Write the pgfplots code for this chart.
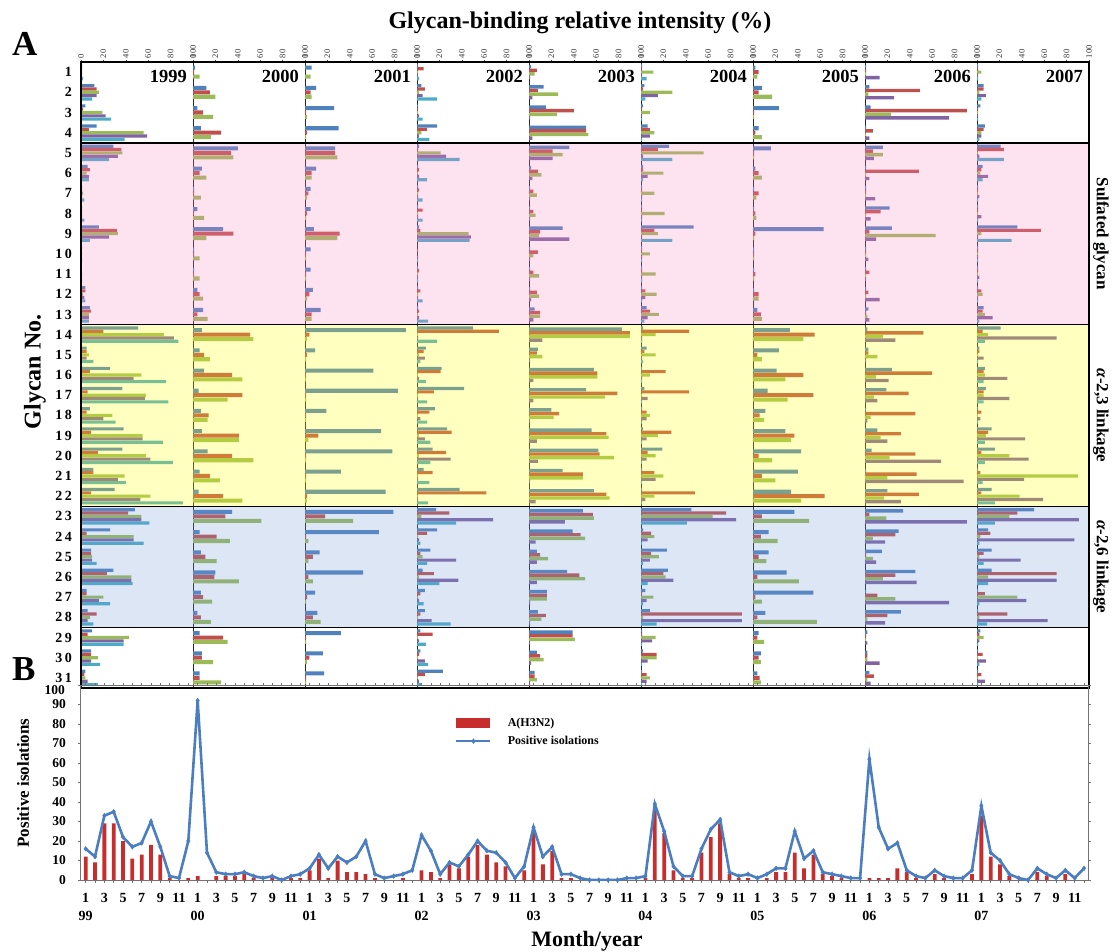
\documentclass[border=0pt]{standalone}
\usepackage{fontspec}
\setmainfont{Liberation Serif}
\usepackage{pgfplots}
\usepackage{pgfplotstable}
\pgfplotsset{compat=1.18}
\definecolor{cb}{RGB}{79,129,189}
\definecolor{cr}{RGB}{192,80,77}
\definecolor{cg}{RGB}{155,187,89}
\definecolor{cp}{RGB}{128,100,162}
\definecolor{cc}{RGB}{75,172,198}
\definecolor{bandpink}{RGB}{247,139,195}
\definecolor{bandyel}{RGB}{255,255,0}
\definecolor{bandblue}{RGB}{115,155,215}
\definecolor{hred}{RGB}{200,45,45}
\definecolor{lblue}{RGB}{74,126,193}
\newcommand{\yl}[1]{\textbf{#1}}

% ---------------- Panel A data (glycan-binding relative intensity, %) -------------
\pgfplotstableread{
g a b c d e
1 1 1 1 1 2
2 12 14 16 14 10
3 4 2 19 22 27
4 14 7 56 59 39
5 29 36 37 33 25
6 6 8 5 7 7
7 1 1 2 1 3
8 1 1 1 1 3
9 16 32 33 25 8
10 1 0 1 0 1
11 0 0 1 0 1
12 4 4 2 3 4
13 8 9 7 7 7
14 51 20 74 83 87
15 5 5 7 5 11
16 26 8 54 47 76
17 37 6 58 57 78
18 8 5 28 20 31
19 38 9 55 55 73
20 37 15 58 62 82
21 11 11 39 33 40
22 30 9 62 53 91
23 48 42 54 54 61
24 26 5 47 47 56
25 9 9 10 10 14
26 29 23 45 45 46
27 5 5 20 16 26
28 6 14 8 6 11
29 10 6 43 38 38
30 9 9 15 9 17
31 4 3 4 6 15
}\tA
\pgfplotstableread{
g a b c
1 2 1 6
2 12 15 20
3 4 9 18
4 7 25 16
5 40 34 36
6 8 6 12
7 1 1 7
8 4 1 10
9 27 36 12
10 1 1 6
11 1 1 6
12 4 6 9
13 9 4 13
14 8 51 54
15 6 10 15
16 10 35 44
17 5 44 31
18 7 14 13
19 8 41 41
20 13 35 54
21 6 15 24
22 5 27 44
23 35 29 61
24 6 21 33
25 7 11 21
26 20 19 41
27 7 9 17
28 4 7 16
29 6 27 31
30 8 8 18
31 6 6 25
}\tBb
\pgfplotstableread{
g a b c
1 6 0 5
2 10 5 6
3 26 1 2
4 30 2 1
5 27 27 29
6 10 6 6
7 5 3 2
8 5 2 1
9 8 31 29
10 5 1 1
11 5 1 1
12 7 4 2
13 14 6 6
14 90 4 2
15 9 2 1
16 61 1 1
17 83 1 1
18 19 1 1
19 68 12 3
20 78 1 1
21 32 1 1
22 72 2 2
23 79 18 43
24 66 1 3
25 13 7 3
26 52 3 7
27 9 2 1
28 11 7 14
29 32 1 1
30 16 4 2
31 17 1 1
}\tC
\pgfplotstableread{
g a b c d e
1 1 6 1 1 2
2 4 7 2 5 18
3 1 1 1 2 5
4 18 9 4 2 11
5 2 1 21 26 38
6 1 2 1 2 9
7 1 2 1 1 5
8 1 5 1 1 5
9 2 3 46 48 47
10 0 1 0 1 1
11 1 2 1 1 1
12 1 3 1 1 5
13 1 2 1 2 10
14 50 73 1 1 18
15 8 6 2 7 3
16 22 21 1 2 8
17 42 15 1 1 9
18 16 11 1 3 9
19 27 31 2 7 12
20 14 26 2 30 12
21 6 14 1 1 11
22 38 62 1 1 10
23 17 29 4 68 35
24 18 9 1 2 3
25 12 3 5 35 9
26 5 15 2 37 20
27 7 3 1 2 6
28 7 3 1 13 30
29 3 14 1 2 8
30 3 2 1 7 10
31 23 7 1 2 4
}\tD
\pgfplotstableread{
g a b c d
1 2 7 5 1
2 13 8 26 3
3 15 40 25 1
4 51 51 53 3
5 36 21 30 21
6 2 8 11 3
7 1 4 7 1
8 1 4 6 1
9 30 10 9 36
10 1 8 4 1
11 1 4 9 1
12 1 7 9 2
13 5 10 10 4
14 83 90 90 12
15 8 7 12 1
16 58 61 61 4
17 51 79 68 4
18 20 27 22 1
19 56 69 71 7
20 62 63 76 8
21 30 48 48 1
22 58 69 72 6
23 48 57 58 32
24 39 46 50 6
25 7 10 17 7
26 34 45 50 7
27 16 16 16 1
28 8 15 11 1
29 39 39 41 1
30 7 10 13 2
31 5 5 7 1
}\tE
\pgfplotstableread{
g a b c d e
1 1 1 11 1 5
2 3 2 28 15 4
3 2 1 8 1 1
4 6 8 12 8 1
5 25 15 56 2 28
6 2 2 20 6 2
7 1 1 12 1 1
8 1 1 21 1 1
9 47 12 15 1 28
10 1 1 8 1 1
11 1 1 13 1 1
12 1 4 14 4 1
13 5 8 16 6 3
14 2 43 13 1 1
15 5 3 13 1 2
16 1 22 8 1 1
17 3 43 1 6 1
18 1 5 8 5 1
19 2 27 15 5 1
20 19 6 13 5 1
21 1 12 20 13 1
22 1 48 12 4 1
23 45 76 64 85 41
24 2 9 12 6 1
25 23 9 16 8 2
26 24 20 22 29 6
27 4 1 11 5 2
28 8 90 2 90 14
29 1 1 13 10 1
30 2 14 14 6 1
31 1 5 8 5 1
}\tF
\pgfplotstableread{
g a b c
1 2 5 4
2 8 5 17
3 23 1 1
4 5 2 8
5 16 1 1
6 2 5 8
7 1 5 3
8 1 2 3
9 63 2 1
10 1 1 1
11 1 2 1
12 1 5 5
13 4 7 8
14 33 55 45
15 23 4 8
16 21 45 29
17 13 54 31
18 11 6 10
19 29 37 34
20 43 5 17
21 40 8 20
22 34 64 43
23 37 8 50
24 14 7 22
25 14 5 12
26 30 4 41
27 54 2 8
28 11 4 57
29 5 4 10
30 7 5 7
31 4 6 7
}\tG
\pgfplotstableread{
g a b c d
1 1 1 1 13
2 4 49 3 26
3 5 91 23 75
4 1 7 1 4
5 16 7 16 8
6 1 48 1 4
7 1 1 1 9
8 22 14 1 5
9 24 4 63 10
10 1 1 1 3
11 1 4 1 1
12 1 3 1 13
13 3 1 2 4
14 2 52 16 27
15 3 3 11 1
16 24 60 10 21
17 19 39 8 11
18 1 45 5 2
19 11 32 14 20
20 6 45 22 68
21 1 46 20 88
22 20 48 17 32
23 34 4 19 91
24 30 27 7 18
25 15 1 7 10
26 45 27 16 46
27 1 11 27 75
28 32 20 2 18
29 2 1 1 2
30 2 2 2 13
31 4 8 2 5
}\tH
\pgfplotstableread{
g a b c d e
1 1 1 4 1 1
2 6 6 2 8 4
3 3 1 1 1 1
4 7 6 4 4 2
5 21 24 1 2 24
6 5 4 3 10 5
7 1 1 1 2 1
8 1 1 1 4 1
9 36 57 4 1 31
10 1 1 1 1 1
11 1 1 1 2 1
12 1 4 5 1 1
13 6 5 7 14 2
14 21 5 10 71 7
15 2 2 1 6 1
16 7 6 7 27 6
17 8 6 6 29 6
18 1 4 1 3 1
19 13 10 8 43 7
20 16 4 29 46 7
21 1 3 90 42 5
22 13 4 38 59 16
23 51 36 29 91 16
24 10 12 3 87 2
25 13 6 2 39 6
26 13 71 10 71 10
27 1 7 36 44 2
28 1 27 2 63 9
29 3 2 6 2 1
30 1 5 1 8 2
31 1 4 1 7 1
}\tI

% ---------------- Panel B data (month index, positive isolations, A(H3N2)) -------
\pgfplotstableread{
m l h
0 16 12
1 12 9
2 33 29
3 35 29
4 22 20
5 17 11
6 19 13
7 30 18
8 17 13
9 2 1
10 1 0
11 20 1
12 92 2
13 14 0
14 4 2
15 3 2
16 3 2
17 4 3
18 2 1
19 1 0
20 2 1
21 0 0
22 2 1
23 3 1
24 6 5
25 13 11
26 6 1
27 12 10
28 9 4
29 12 4
30 20 3
31 3 1
32 1 0
33 2 0
34 3 1
35 5 0
36 23 5
37 15 4
38 3 1
39 9 8
40 7 6
41 13 12
42 20 18
43 15 13
44 14 9
45 9 7
46 1 0
47 7 5
48 27 24
49 12 8
50 17 15
51 3 1
52 3 1
53 1 0
54 0 0
55 0 0
56 0 0
57 0 0
58 1 0
59 1 0
60 2 1
61 39 36
62 25 24
63 7 5
64 2 1
65 2 1
66 16 14
67 26 22
68 31 29
69 4 3
70 2 1
71 3 1
72 1 0
73 3 1
74 6 4
75 6 4
76 25 14
77 11 6
78 15 13
79 4 3
80 3 2
81 2 1
82 1 0
83 1 0
84 62 1
85 27 1
86 16 1
87 19 6
88 5 4
89 2 1
90 1 0
91 5 3
92 2 1
93 1 0
94 1 0
95 5 3
96 38 33
97 14 12
98 10 8
99 3 2
100 1 0
101 0 0
102 6 4
103 3 2
104 1 0
105 5 3
106 1 0
107 6 0
}\tMon

\pgfplotsset{
  yearax/.style={
    scale only axis, width=112pt, height=626pt, anchor=north west,
    xmin=0, xmax=100, ymin=0.5, ymax=31.5, y dir=reverse,
    xtick={0,20,40,60,80,100}, xtick pos=right, xticklabel pos=right,
    ytick=\empty, tick align=outside, major tick length=2.5pt,
    tick style={black!70, line width=0.4pt},
    xticklabel style={rotate=90, anchor=west, font=\fontsize{8.5}{8.5}\selectfont, text=black!80, inner sep=1.2pt},
    axis line style={black!85, line width=0.6pt},
    /pgf/number format/assume math mode=true,
  },
  bst/.style={xbar, draw=none},
}
\tikzset{yr/.style={anchor=base east, font=\fontsize{18.5}{18.5}\selectfont\bfseries, inner sep=0pt}}

\newcommand{\barsfive}[1]{%
  \addplot[bst, fill=cb, bar width=0.155, bar shift=-0.33] table[x=a,y=g]{#1};
  \addplot[bst, fill=cr, bar width=0.155, bar shift=-0.165] table[x=b,y=g]{#1};
  \addplot[bst, fill=cg, bar width=0.155, bar shift=0] table[x=c,y=g]{#1};
  \addplot[bst, fill=cp, bar width=0.155, bar shift=0.165] table[x=d,y=g]{#1};
  \addplot[bst, fill=cc, bar width=0.155, bar shift=0.33] table[x=e,y=g]{#1};}
\newcommand{\barsfour}[1]{%
  \addplot[bst, fill=cb, bar width=0.17, bar shift=-0.27] table[x=a,y=g]{#1};
  \addplot[bst, fill=cr, bar width=0.17, bar shift=-0.09] table[x=b,y=g]{#1};
  \addplot[bst, fill=cg, bar width=0.17, bar shift=0.09] table[x=c,y=g]{#1};
  \addplot[bst, fill=cp, bar width=0.17, bar shift=0.27] table[x=d,y=g]{#1};}
\newcommand{\barsthree}[1]{%
  \addplot[bst, fill=cb, bar width=0.2, bar shift=-0.22] table[x=a,y=g]{#1};
  \addplot[bst, fill=cr, bar width=0.2, bar shift=0] table[x=b,y=g]{#1};
  \addplot[bst, fill=cg, bar width=0.2, bar shift=0.22] table[x=c,y=g]{#1};}

\begin{document}
\begin{tikzpicture}[x=1pt,y=1pt]
\useasboundingbox (0pt,0pt) rectangle (1113pt,-951pt);

% ---------------- Panel A: nine year columns ----------------
\begin{axis}[yearax, at={(81pt,-62pt)},
  ytick={1,...,31}, ytick style={draw=none},
  yticklabels={\yl{1},\yl{2},\yl{3},\yl{4},\yl{5},\yl{6},\yl{7},\yl{8},\yl{9},
    \yl{1\kern2.5pt0},\yl{1\kern2.5pt1},\yl{1\kern2.5pt2},\yl{1\kern2.5pt3},\yl{1\kern2.5pt4},
    \yl{1\kern2.5pt5},\yl{1\kern2.5pt6},\yl{1\kern2.5pt7},\yl{1\kern2.5pt8},\yl{1\kern2.5pt9},
    \yl{2\kern2.5pt0},\yl{2\kern2.5pt1},\yl{2\kern2.5pt2},\yl{2\kern2.5pt3},\yl{2\kern2.5pt4},
    \yl{2\kern2.5pt5},\yl{2\kern2.5pt6},\yl{2\kern2.5pt7},\yl{2\kern2.5pt8},\yl{2\kern2.5pt9},
    \yl{3\kern2.5pt0},\yl{3\kern2.5pt1}},
  yticklabel style={font=\fontsize{14}{14}\selectfont\bfseries, xshift=-3pt}]
\barsfive{\tA}
\node[yr] at (axis cs:94.6,1.525) {1999};
\end{axis}
\begin{axis}[yearax, at={(193pt,-62pt)}]
\barsthree{\tBb}
\node[yr] at (axis cs:94.6,1.525) {2000};
\end{axis}
\begin{axis}[yearax, at={(305pt,-62pt)}]
\barsthree{\tC}
\node[yr] at (axis cs:94.6,1.525) {2001};
\end{axis}
\begin{axis}[yearax, at={(417pt,-62pt)}]
\barsfive{\tD}
\node[yr] at (axis cs:94.6,1.525) {2002};
\end{axis}
\begin{axis}[yearax, at={(529pt,-62pt)}]
\barsfour{\tE}
\node[yr] at (axis cs:94.6,1.525) {2003};
\end{axis}
\begin{axis}[yearax, at={(641pt,-62pt)}]
\barsfive{\tF}
\node[yr] at (axis cs:94.6,1.525) {2004};
\end{axis}
\begin{axis}[yearax, at={(753pt,-62pt)}]
\barsthree{\tG}
\node[yr] at (axis cs:94.6,1.525) {2005};
\end{axis}
\begin{axis}[yearax, at={(865pt,-62pt)}]
\barsfour{\tH}
\node[yr] at (axis cs:94.6,1.525) {2006};
\end{axis}
\begin{axis}[yearax, at={(977pt,-62pt)}]
\barsfive{\tI}
\node[yr] at (axis cs:94.6,1.525) {2007};
\end{axis}

% tinted glycan-class bands over the bars
\fill[bandpink, fill opacity=0.25] (81,-142.77) rectangle (1089,-324.52);
\fill[bandyel, fill opacity=0.25] (81,-324.52) rectangle (1089,-506.26);
\fill[bandblue, fill opacity=0.25] (81,-506.26) rectangle (1089,-627.42);
\draw[black, line width=1.5pt] (81,-62) rectangle (1089,-688);
\foreach \yy in {-142.77,-324.52,-506.26,-627.42}
  \draw[black, line width=1.5pt] (81,\yy) -- (1089,\yy);

% ---------------- Panel B ----------------
\begin{axis}[at={(80pt,-880pt)}, anchor=south west, scale only axis,
  width=1008pt, height=195pt,
  xmin=-0.61, xmax=107.43, ymin=0, ymax=100,
  ytick={0,10,...,90},
  extra y ticks={100},
  extra y tick style={yticklabel style={yshift=-5.5pt, xshift=-1pt}},
  xtick={0,...,107},
  xticklabels={
   {1\\99},{},3,{},5,{},7,{},9,{},11,{},
   {1\\00},{},3,{},5,{},7,{},9,{},11,{},
   {1\\01},{},3,{},5,{},7,{},9,{},11,{},
   {1\\02},{},3,{},5,{},7,{},9,{},11,{},
   {1\\03},{},3,{},5,{},7,{},9,{},11,{},
   {1\\04},{},3,{},5,{},7,{},9,{},11,{},
   {1\\05},{},3,{},5,{},7,{},9,{},11,{},
   {1\\06},{},3,{},5,{},7,{},9,{},11,{},
   {1\\07},{},3,{},5,{},7,{},9,{},11,{}},
  xticklabel style={align=center, anchor=north, font=\fontsize{14}{18}\selectfont\bfseries, yshift=-11pt, inner sep=0pt},
  yticklabel style={font=\fontsize{13.5}{13.5}\selectfont\bfseries, xshift=-8pt},
  /pgf/number format/assume math mode=true,
  tick align=outside, major tick length=2.5pt,
  tick style={black!55, line width=0.5pt},
  axis line style={black!55, line width=0.8pt},
  legend style={at={(0.372,0.84)}, anchor=north west, draw=none, fill=none,
    font=\fontsize{12}{12}\selectfont\bfseries, row sep=4pt, inner sep=0pt,
    /tikz/every odd column/.append style={column sep=14pt}},
  legend cell align=left,
]
\addplot[ybar, bar width=3.8pt, fill=hred, draw=none,
  legend image code/.code={\fill[hred] (0pt,-5pt) rectangle (34pt,5pt);}]
  table[x=m,y=h]{\tMon};
\addlegendentry{A(H3N2)}
\addplot[lblue, line width=2.6pt, mark=diamond*, mark size=2.3pt,
  mark options={solid, fill=lblue, line width=0.5pt},
  legend image code/.code={\draw[lblue, line width=2.6pt, mark=diamond*, mark size=2.3pt, mark repeat=2, mark phase=2] plot coordinates {(0pt,0pt) (17pt,0pt) (34pt,0pt)};}]
  table[x=m,y=l]{\tMon};
\addlegendentry{Positive isolations}
\end{axis}

% ---------------- texts ----------------
\node[anchor=base, font=\fontsize{24}{24}\selectfont\bfseries] at (580,-28.3) {Glycan-binding relative intensity (\%)};
\node[anchor=base west, font=\fontsize{35}{35}\selectfont\bfseries, inner sep=0pt] at (12,-55) {A};
\node[anchor=base west, font=\fontsize{35}{35}\selectfont\bfseries, inner sep=0pt] at (12,-680) {B};
\node[rotate=90, font=\fontsize{24}{24}\selectfont\bfseries] at (35,-372) {Glycan No.};
\node[rotate=90, font=\fontsize{17}{17}\selectfont\bfseries] at (23,-783) {Positive isolations};
\node[anchor=base, font=\fontsize{22}{22}\selectfont\bfseries] at (587,-946) {Month/year};
\node[rotate=-90, font=\fontsize{17}{17}\selectfont\bfseries] at (1101,-233.6) {Sulfated glycan};
\node[rotate=-90, font=\fontsize{17}{17}\selectfont\bfseries] at (1101,-415.4) {{\itshape α}-2,3 linkage};
\node[rotate=-90, font=\fontsize{17}{17}\selectfont\bfseries] at (1101,-566.8) {{\itshape α}-2,6 linkage};
\end{tikzpicture}
\end{document}
